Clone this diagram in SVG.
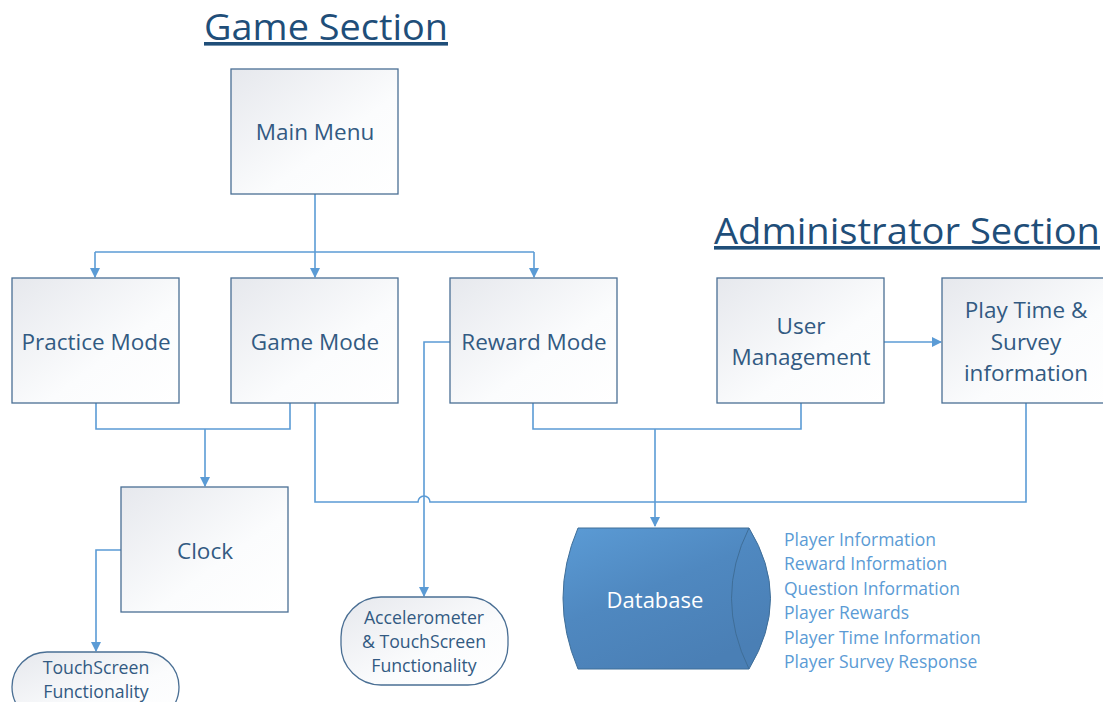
<svg xmlns="http://www.w3.org/2000/svg" width="1103" height="702" viewBox="0 0 1103 702">
<defs>
<linearGradient id="boxg" x1="0" y1="0" x2="1" y2="1">
<stop offset="0" stop-color="#E6E8ED"/>
<stop offset="0.6" stop-color="#FBFCFD"/>
<stop offset="1" stop-color="#FFFFFF"/>
</linearGradient>
<linearGradient id="dbg" x1="0" y1="0" x2="0.6" y2="1">
<stop offset="0" stop-color="#5B9BD5"/>
<stop offset="0.5" stop-color="#4F88C0"/>
<stop offset="1" stop-color="#4A7FB5"/>
</linearGradient>
<marker id="arr" viewBox="0 0 10 10" refX="9" refY="5" markerWidth="10" markerHeight="10" markerUnits="userSpaceOnUse" orient="auto">
<path d="M0,0 L10,5 L0,10 z" fill="#5B9BD5"/>
</marker>
<style>
.box{fill:url(#boxg);stroke:#4A6F94;stroke-width:1.3}
.lbl{font-family:"Open Sans","Liberation Sans",sans-serif;font-size:22.5px;fill:#325A82;text-anchor:middle}
.sml{font-family:"Open Sans","Liberation Sans",sans-serif;font-size:17.7px;fill:#325A82;text-anchor:middle}
.title{font-family:"Open Sans","Liberation Sans",sans-serif;font-size:36px;fill:#1F4E79;text-decoration:underline}
.con{fill:none;stroke:#5B9BD5;stroke-width:1.6}
.list{font-family:"Open Sans","Liberation Sans",sans-serif;font-size:17.5px;fill:#5B9BD5}
</style>
</defs>
<rect width="1103" height="702" fill="#FFFFFF"/>
<text class="title" x="204" y="40" textLength="244" lengthAdjust="spacingAndGlyphs">Game Section</text>
<text class="title" x="714" y="244" textLength="386" lengthAdjust="spacingAndGlyphs">Administrator Section</text>

<g id="connectors">
<path class="con" d="M315,194 V252"/>
<path class="con" d="M95,252 H534"/>
<path class="con" d="M95,252 V277" marker-end="url(#arr)"/>
<path class="con" d="M315,252 V277" marker-end="url(#arr)"/>
<path class="con" d="M534,252 V277" marker-end="url(#arr)"/>
<path class="con" d="M96,403 V429 H290 V403"/>
<path class="con" d="M205,429 V486" marker-end="url(#arr)"/>
<path class="con" d="M315,403 V502 H418 A6,6 0 0 1 430,502 H1026 V403"/>
<path class="con" d="M533,403 V429 H801 V403"/>
<path class="con" d="M655,429 V526" marker-end="url(#arr)"/>
<path class="con" d="M450,342 H424 V596" marker-end="url(#arr)"/>
<path class="con" d="M121,550 H96 V651" marker-end="url(#arr)"/>
<path class="con" d="M884,342 H941" marker-end="url(#arr)"/>
</g>

<g id="main-menu">
<rect class="box" x="231" y="69" width="167" height="125"/>
<text class="lbl" x="315" y="140">Main Menu</text>
</g>
<g id="practice-mode">
<rect class="box" x="12" y="278" width="167" height="125"/>
<text class="lbl" x="96" y="350">Practice Mode</text>
</g>
<g id="game-mode">
<rect class="box" x="231" y="278" width="167" height="125"/>
<text class="lbl" x="315" y="350">Game Mode</text>
</g>
<g id="reward-mode">
<rect class="box" x="450" y="278" width="167" height="125"/>
<text class="lbl" x="534" y="350">Reward Mode</text>
</g>
<g id="user-management">
<rect class="box" x="717" y="278" width="167" height="125"/>
<text class="lbl" x="801" y="334">User</text>
<text class="lbl" x="801" y="365">Management</text>
</g>
<g id="play-time">
<rect class="box" x="942" y="278" width="167" height="125"/>
<text class="lbl" x="1026" y="318">Play Time &amp;</text>
<text class="lbl" x="1026" y="350">Survey</text>
<text class="lbl" x="1026" y="381">information</text>
</g>
<g id="clock">
<rect class="box" x="121" y="487" width="167" height="125"/>
<text class="lbl" x="205" y="559">Clock</text>
</g>
<g id="touchscreen">
<rect class="box" x="12" y="652" width="167" height="70" rx="35"/>
<text class="sml" x="96" y="674">TouchScreen</text>
<text class="sml" x="96" y="698">Functionality</text>
</g>
<g id="accelerometer">
<rect class="box" x="341" y="597" width="167" height="88" rx="40"/>
<text class="sml" x="424" y="624">Accelerometer</text>
<text class="sml" x="424" y="648">&amp; TouchScreen</text>
<text class="sml" x="424" y="672">Functionality</text>
</g>
<g id="database">
<path d="M578,528 H749 Q792,598 749,669 H578 Q548,598 578,528 Z" fill="url(#dbg)" stroke="#3F6E98" stroke-width="1"/>
<path d="M749,528 Q714,598 749,669" fill="none" stroke="#3F6E98" stroke-width="1"/>
<text x="655" y="608" font-family="Open Sans, Liberation Sans, sans-serif" font-size="22" fill="#FFFFFF" text-anchor="middle">Database</text>
</g>
<g id="database-contents">
<text class="list" x="784" y="546">Player Information</text>
<text class="list" x="784" y="570">Reward Information</text>
<text class="list" x="784" y="595">Question Information</text>
<text class="list" x="784" y="619">Player Rewards</text>
<text class="list" x="784" y="644">Player Time Information</text>
<text class="list" x="784" y="668">Player Survey Response</text>
</g>
</svg>
